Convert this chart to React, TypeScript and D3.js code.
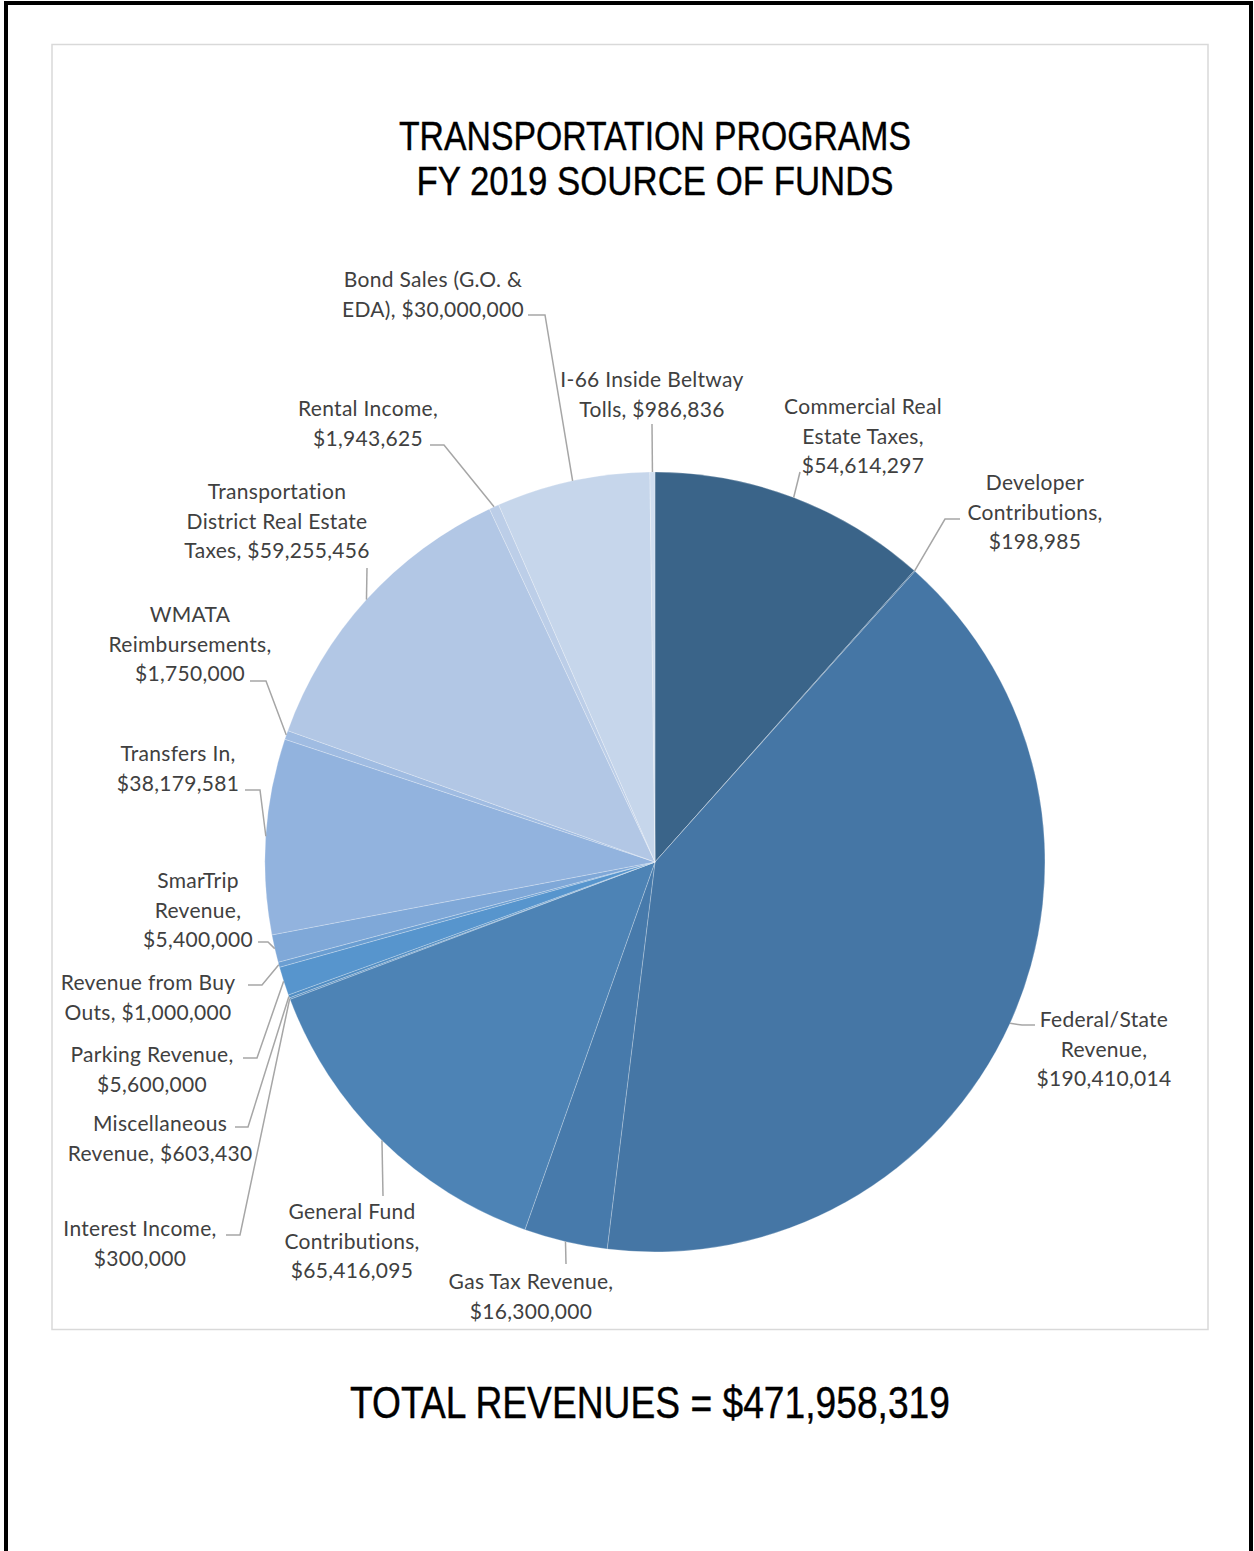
import React from "react";
import * as d3 from "d3";

// ---- data ----
const categories = [
  "Commercial Real Estate Taxes",
  "Developer Contributions",
  "Federal/State Revenue",
  "Gas Tax Revenue",
  "General Fund Contributions",
  "Interest Income",
  "Miscellaneous Revenue",
  "Parking Revenue",
  "Revenue from Buy Outs",
  "SmarTrip Revenue",
  "Transfers In",
  "WMATA Reimbursements",
  "Transportation District Real Estate Taxes",
  "Rental Income",
  "Bond Sales (G.O. & EDA)",
  "I-66 Inside Beltway Tolls",
];
const values = [
  54614297, 198985, 190410014, 16300000, 65416095, 300000, 603430, 5600000,
  1000000, 5400000, 38179581, 1750000, 59255456, 1943625, 30000000, 986836,
];
const labelLines = [
  ["Commercial Real", "Estate Taxes,", "$54,614,297"],
  ["Developer", "Contributions,", "$198,985"],
  ["Federal/State", "Revenue,", "$190,410,014"],
  ["Gas Tax Revenue,", "$16,300,000"],
  ["General Fund", "Contributions,", "$65,416,095"],
  ["Interest Income,", "$300,000"],
  ["Miscellaneous", "Revenue, $603,430"],
  ["Parking Revenue,", "$5,600,000"],
  ["Revenue from Buy", "Outs, $1,000,000"],
  ["SmarTrip", "Revenue,", "$5,400,000"],
  ["Transfers In,", "$38,179,581"],
  ["WMATA", "Reimbursements,", "$1,750,000"],
  ["Transportation", "District Real Estate", "Taxes, $59,255,456"],
  ["Rental Income,", "$1,943,625"],
  ["Bond Sales (G.O. &", "EDA), $30,000,000"],
  ["I-66 Inside Beltway", "Tolls, $986,836"],
];
const titleLines = ["TRANSPORTATION PROGRAMS", "FY 2019 SOURCE OF FUNDS"];
const totalText = "TOTAL REVENUES = $471,958,319";

// ---- styles / layout ----
const colors = [
  "#3A6489", "#3E6C96", "#4576A5", "#477AAB", "#4D83B5", "#5089BD",
  "#528EC3", "#5795CD", "#6A9ED2", "#7FA8D8", "#92B3DE", "#A0BCE2",
  "#B2C7E5", "#BCCEE8", "#C6D6EB", "#D0DEF0",
];
// label layout: text center x, first baseline y, leader points after edge
const labelLayout: { cx: number; y: number; pts: [number, number][] }[] = [
  { cx: 863, y: 414, pts: [[800, 472]] },
  { cx: 1035, y: 490, pts: [[945, 519], [960, 519]] },
  { cx: 1104, y: 1027, pts: [[1022, 1025], [1035, 1025]] },
  { cx: 531, y: 1289, pts: [[566, 1264]] },
  { cx: 352, y: 1219, pts: [[383, 1196]] },
  { cx: 140, y: 1236, pts: [[240, 1235], [226, 1235]] },
  { cx: 160, y: 1131, pts: [[248, 1127], [235, 1127]] },
  { cx: 152, y: 1062, pts: [[257, 1058], [243, 1058]] },
  { cx: 148, y: 990, pts: [[262, 985], [248, 985]] },
  { cx: 198, y: 888, pts: [[268, 942], [258, 942]] },
  { cx: 178, y: 761, pts: [[260, 790], [245, 790]] },
  { cx: 190, y: 622, pts: [[266, 681], [250, 681]] },
  { cx: 277, y: 499, pts: [[367, 568]] },
  { cx: 368, y: 416, pts: [[444, 445], [430, 445]] },
  { cx: 433, y: 287, pts: [[545, 315], [528, 315]] },
  { cx: 652, y: 387, pts: [[652, 424]] },
];

const W = 1254;
const H = 1551;
const CX = 655;
const CY = 862;
const R = 390;
const LINE_H = 29.5;

export default function App() {
  const pie = d3
    .pie<number>()
    .sort(null)
    .value((d) => d)
    .startAngle(0)
    .endAngle(2 * Math.PI);
  const arcs = pie(values);
  const arc = d3.arc<d3.PieArcDatum<number>>().innerRadius(0).outerRadius(R);
  const line = d3.line();

  return (
    <svg
      width={W}
      height={H}
      style={{ position: "absolute", left: 0, top: 0, background: "#fff" }}
    >
      <rect x={0} y={0} width={W} height={H} fill="#fff" />
      <path d={`M6,${H} V3 H1251 V${H}`} fill="none" stroke="#000" strokeWidth={4} />
      <rect x={52} y={44.5} width={1156} height={1285} fill="#fff" stroke="#D9D9D9" strokeWidth={1.5} />

      {titleLines.map((t, i) => (
        <text
          key={t}
          x={655}
          y={150 + i * 45}
          textAnchor="middle"
          fontFamily="'Liberation Sans Narrow', 'Arial Narrow', 'Liberation Sans', sans-serif"
          fontSize={41}
          fill="#000"
          stroke="#000"
          strokeWidth={0.4}
          textLength={i === 0 ? 512 : 477}
          lengthAdjust="spacingAndGlyphs"
        >
          {t}
        </text>
      ))}

      <g transform={`translate(${CX},${CY})`}>
        {arcs.map((a, i) => (
          <path
            key={categories[i]}
            d={arc(a) || ""}
            fill={colors[i]}
            stroke="#ffffff"
            strokeOpacity={0.35}
            strokeWidth={0.7}
          />
        ))}
      </g>

      {arcs.map((a, i) => {
        const mid = (a.startAngle + a.endAngle) / 2;
        const sx = CX + R * Math.sin(mid);
        const sy = CY - R * Math.cos(mid);
        const lay = labelLayout[i];
        const pts: [number, number][] = [[sx, sy], ...lay.pts];
        return (
          <path
            key={"l" + i}
            d={line(pts) || ""}
            fill="none"
            stroke="#A6A6A6"
            strokeWidth={1.5}
          />
        );
      })}

      {labelLines.map((lines, i) => (
        <text
          key={"t" + i}
          textAnchor="middle"
          fontFamily="Lato, 'Open Sans', sans-serif"
          fontSize={21}
          letterSpacing={0.3}
          fill="#404040"
        >
          {lines.map((ln, j) => (
            <tspan key={j} x={labelLayout[i].cx} y={labelLayout[i].y + j * LINE_H}>
              {ln}
            </tspan>
          ))}
        </text>
      ))}

      <text
        x={650}
        y={1418}
        textAnchor="middle"
        fontFamily="'Liberation Sans Narrow', 'Arial Narrow', 'Liberation Sans', sans-serif"
        fontSize={45}
        fill="#000"
        stroke="#000"
        strokeWidth={0.4}
        textLength={600}
        lengthAdjust="spacingAndGlyphs"
      >
        {totalText}
      </text>
    </svg>
  );
}
